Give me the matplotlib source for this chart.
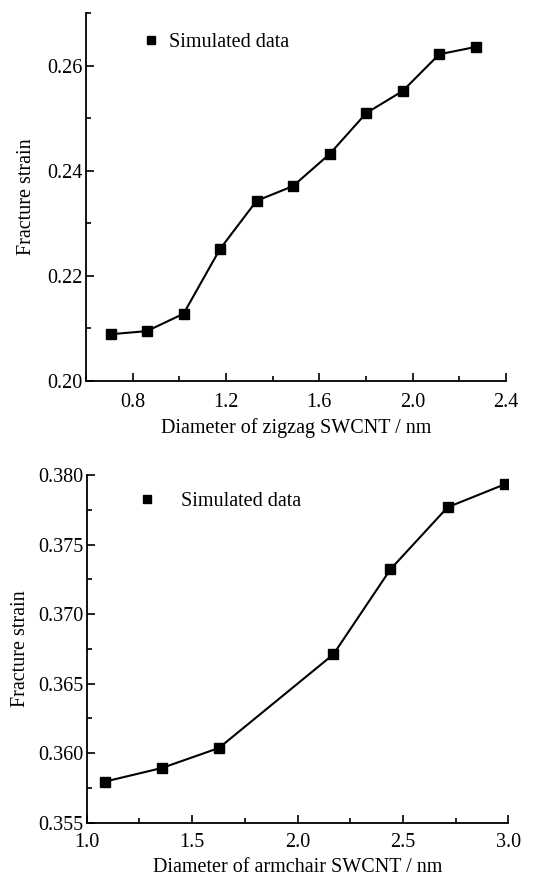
import matplotlib
matplotlib.use("Agg")
import matplotlib.pyplot as plt
from matplotlib.lines import Line2D
from matplotlib.ticker import MultipleLocator, FormatStrFormatter

plt.rcParams["font.family"] = ["Liberation Serif", "DejaVu Serif"]
plt.rcParams["font.size"] = 14.5

# zigzag SWCNT
zigzag_d = [0.705, 0.861, 1.018, 1.174, 1.331, 1.487, 1.644, 1.801, 1.957, 2.114, 2.271]
zigzag_strain = [0.2089, 0.2095, 0.2128, 0.2251, 0.2343, 0.2371, 0.2432, 0.2510, 0.2552, 0.2622, 0.2636]

# armchair SWCNT
armchair_d = [1.085, 1.356, 1.627, 2.170, 2.441, 2.712, 2.983]
armchair_strain = [0.35795, 0.35893, 0.36037, 0.3671, 0.37322, 0.37768, 0.37933]

W, H = 534, 877
fig = plt.figure(figsize=(W / 100, H / 100), dpi=100)

ax1 = fig.add_axes([86 / W, 1 - 381 / H, 420 / W, (381 - 13.3) / H])
ax2 = fig.add_axes([86.7 / W, 1 - 822.7 / H, (508.3 - 86.7) / W, (822.7 - 475) / H])


def style(ax, xpad):
    for s in ["top", "right"]:
        ax.spines[s].set_visible(False)
    for s in ["left", "bottom"]:
        ax.spines[s].set_linewidth(1.3)
    ax.tick_params(which="major", direction="in", length=6, width=1.2, labelsize=14.5)
    ax.tick_params(which="minor", direction="in", length=3.5, width=1.2)
    ax.tick_params(axis="x", pad=xpad)
    ax.tick_params(axis="y", pad=2.5)


def marker_legend(ax, anchor, textpad):
    h = Line2D([], [], ls="none", marker="s", color="black", ms=6)
    ax.legend([h], ["Simulated data"], frameon=False, loc="center left",
              bbox_to_anchor=anchor, bbox_transform=fig.transFigure,
              borderpad=0, borderaxespad=0, handlelength=1,
              handletextpad=textpad, fontsize=14.5)


ax1.plot(zigzag_d, zigzag_strain, "-s", color="black", lw=1.5, ms=6.5)
ax1.set_xlim(0.6, 2.4)
ax1.set_ylim(0.20, 0.27)
ax1.xaxis.set_major_locator(MultipleLocator(0.4))
ax1.xaxis.set_minor_locator(MultipleLocator(0.2))
ax1.yaxis.set_major_locator(MultipleLocator(0.02))
ax1.yaxis.set_minor_locator(MultipleLocator(0.01))
ax1.xaxis.set_major_formatter(FormatStrFormatter("%.1f"))
ax1.yaxis.set_major_formatter(FormatStrFormatter("%.2f"))
ax1.set_xlabel("Diameter of zigzag SWCNT / nm", labelpad=4)
ax1.set_ylabel("Fracture strain", labelpad=8)
style(ax1, 9)
marker_legend(ax1, (141 / W, 1 - 42.3 / H), 0.38)

ax2.plot(armchair_d, armchair_strain, "-s", color="black", lw=1.5, ms=6.5)
ax2.set_xlim(1.0, 3.0)
ax2.set_ylim(0.355, 0.380)
ax2.xaxis.set_major_locator(MultipleLocator(0.5))
ax2.xaxis.set_minor_locator(MultipleLocator(0.25))
ax2.yaxis.set_major_locator(MultipleLocator(0.005))
ax2.yaxis.set_minor_locator(MultipleLocator(0.0025))
ax2.xaxis.set_major_formatter(FormatStrFormatter("%.1f"))
ax2.yaxis.set_major_formatter(FormatStrFormatter("%.3f"))
ax2.set_xlabel("Diameter of armchair SWCNT / nm", labelpad=4)
ax2.set_ylabel("Fracture strain", labelpad=6)
style(ax2, 7.5)
marker_legend(ax2, (137 / W, 1 - 501.7 / H), 1.2)

fig.savefig("out.png", dpi=100)
